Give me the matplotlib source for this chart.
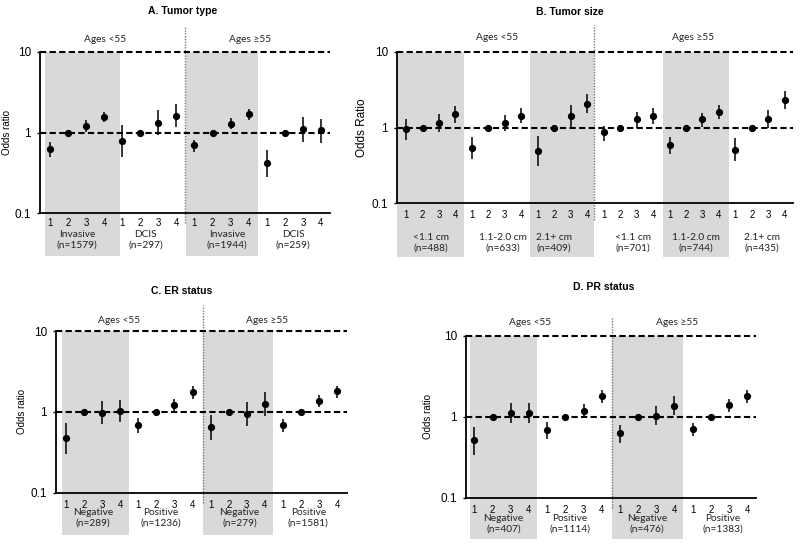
import matplotlib
matplotlib.use("Agg")
import matplotlib.pyplot as plt
from matplotlib.ticker import FixedLocator, NullLocator

plt.rcParams['font.family'] = ['Liberation Sans', 'DejaVu Sans']
LBL = ['Lato', 'DejaVu Sans']

# A. Tumor type
a_groups = ["Invasive\n(n=1579)", "DCIS\n(n=297)", "Invasive\n(n=1944)", "DCIS\n(n=259)"]
a_or = [0.63, 1, 1.20, 1.58, 0.79, 1, 1.33, 1.61, 0.69, 1, 1.29, 1.69, 0.42, 1, 1.10, 1.06]
a_lo = [0.50, 1, 1.02, 1.34, 0.49, 1, 0.94, 1.16, 0.58, 1, 1.10, 1.44, 0.28, 1, 0.77, 0.74]
a_hi = [0.77, 1, 1.41, 1.82, 1.25, 1, 1.88, 2.25, 0.81, 1, 1.51, 1.95, 0.61, 1, 1.54, 1.48]

# B. Tumor size
b_groups = ["<1.1 cm\n(n=488)", "1.1-2.0 cm\n(n=633)", "2.1+ cm\n(n=409)",
            "<1.1 cm\n(n=701)", "1.1-2.0 cm\n(n=744)", "2.1+ cm\n(n=435)"]
b_or = [0.95, 1, 1.13, 1.49, 0.53, 1, 1.16, 1.43, 0.49, 1, 1.43, 2.06,
        0.86, 1, 1.28, 1.43, 0.58, 1, 1.28, 1.61, 0.51, 1, 1.29, 2.33]
b_lo = [0.69, 1, 0.86, 1.16, 0.38, 1, 0.91, 1.14, 0.31, 1, 1.00, 1.55,
        0.67, 1, 1.00, 1.12, 0.45, 1, 1.03, 1.29, 0.36, 1, 0.98, 1.77]
b_hi = [1.30, 1, 1.50, 1.94, 0.74, 1, 1.47, 1.80, 0.78, 1, 1.96, 2.76,
        1.06, 1, 1.60, 1.80, 0.74, 1, 1.55, 2.00, 0.72, 1, 1.71, 3.06]

# C. ER status
c_groups = ["Negative\n(n=289)", "Positive\n(n=1236)", "Negative\n(n=279)", "Positive\n(n=1581)"]
c_or = [0.47, 1, 0.97, 1.02, 0.68, 1, 1.23, 1.74, 0.65, 1, 0.95, 1.24, 0.68, 1, 1.37, 1.80]
c_lo = [0.30, 1, 0.70, 0.74, 0.54, 1, 1.03, 1.43, 0.45, 1, 0.67, 0.89, 0.57, 1, 1.15, 1.50]
c_hi = [0.73, 1, 1.36, 1.39, 0.85, 1, 1.46, 2.08, 0.91, 1, 1.33, 1.74, 0.81, 1, 1.61, 2.10]

# D. PR status
d_groups = ["Negative\n(n=407)", "Positive\n(n=1114)", "Negative\n(n=476)", "Positive\n(n=1383)"]
d_or = [0.51, 1, 1.13, 1.13, 0.68, 1, 1.19, 1.80, 0.63, 1, 1.03, 1.38, 0.70, 1, 1.39, 1.82]
d_lo = [0.34, 1, 0.85, 0.85, 0.53, 1, 1.00, 1.49, 0.47, 1, 0.79, 1.05, 0.58, 1, 1.15, 1.50]
d_hi = [0.75, 1, 1.50, 1.50, 0.87, 1, 1.43, 2.13, 0.80, 1, 1.36, 1.80, 0.85, 1, 1.65, 2.17]

quart = ["1", "2", "3", "4"]
ages = ["Ages <55", "Ages \u226555"]

W, H = 800, 547
fig = plt.figure(figsize=(8, 5.47), dpi=100)
fig.patch.set_facecolor('white')


def px_axes(l, r, t, b):
    return fig.add_axes([l / W, 1 - b / H, (r - l) / W, (b - t) / H])


def draw_panel(ax, orr, lo, hi, groups, xlim, shades, shade_bot, div, div_ext,
               ages_x, ages_y, grp_x, grp_y, grp_ls, tick_pad, ylabel, ylab_x, ylab_fs):
    n = len(orr)
    x = list(range(n))
    ax.set_yscale('log')
    ax.set_ylim(0.1, 10)
    ax.set_xlim(*xlim)
    for s0, s1 in shades:
        ax.axvspan(s0, s1, ymin=shade_bot, ymax=1, color='#d9d9d9', lw=0,
                   clip_on=False, zorder=0)
    ax.axvline(div, ymin=div_ext[0], ymax=div_ext[1], color='#777777', lw=1,
               ls=(0, (1, 1)), clip_on=False, zorder=1)
    for yv in [1, 10]:
        ax.axhline(yv, color='black', lw=1.5, dashes=(3, 1.6), clip_on=False, zorder=2)
    yerr = [[o - l for o, l in zip(orr, lo)], [h - o for o, h in zip(orr, hi)]]
    ax.errorbar(x, orr, yerr=yerr, fmt='o', color='black', ms=4.2, elinewidth=1.1,
                capsize=0, zorder=3)
    ax.spines['top'].set_visible(False)
    ax.spines['right'].set_visible(False)
    ax.spines['left'].set_linewidth(1.3)
    ax.spines['bottom'].set_linewidth(1.3)
    ax.yaxis.set_major_locator(FixedLocator([0.1, 1, 10]))
    ax.yaxis.set_minor_locator(NullLocator())
    ax.set_yticklabels(["0.1", "1", "10"])
    ax.tick_params(axis='y', length=2.5, width=1, pad=4, labelsize=8.5)
    ax.set_xticks(x)
    ax.set_xticklabels(quart * (n // 4))
    ax.tick_params(axis='x', length=0, pad=tick_pad, labelsize=7)
    ax.patch.set_alpha(0)
    trans = ax.get_xaxis_transform()
    for gx, g in zip(grp_x, groups):
        ax.text(gx, grp_y, g, transform=trans, ha='center', va='center', fontsize=7.3,
                family=LBL, linespacing=grp_ls, color='#222222')
    for axx, a in zip(ages_x, ages):
        ax.text(axx, ages_y, a, transform=trans, ha='center', va='center', fontsize=7.3,
                family=LBL, color='#222222')
    ax.set_ylabel(ylabel, fontsize=ylab_fs)
    ax.yaxis.set_label_coords(ylab_x, 0.5)


axA = px_axes(40, 330, 52, 213)
draw_panel(axA, a_or, a_lo, a_hi, a_groups, (-0.55, 15.5),
           [(-0.28, 3.87), (7.55, 11.5)], -0.267, 7.47, (-0.062, 1.155),
           [3.04, 11.07], 1.075, [1.5, 5.3, 9.8, 13.45], -0.165, 1.15, 3.5,
           "Odds ratio", -0.097, 7)

axB = px_axes(397, 793, 52, 203)
draw_panel(axB, b_or, b_lo, b_hi, b_groups, (-0.55, 23.5),
           [(-0.55, 3.5), (7.55, 11.4), (15.6, 19.6)], -0.358, 11.4, (-0.113, 1.18),
           [5.53, 17.45], 1.093, [1.52, 5.9, 9.0, 13.8, 17.6, 21.6], -0.262, 1.3, 5,
           "Odds Ratio", -0.073, 8.5)

axC = px_axes(56, 347, 331, 492.7)
draw_panel(axC, c_or, c_lo, c_hi, c_groups, (-0.54, 15.53),
           [(-0.19, 3.49), (7.6, 11.46)], -0.262, 7.57, (-0.064, 1.16),
           [2.94, 11.1], 1.068, [1.5, 5.27, 9.6, 13.4], -0.156, 1.15, 5,
           "Odds ratio", -0.1, 7)

axD = px_axes(466, 756, 336, 497.7)
draw_panel(axD, d_or, d_lo, d_hi, d_groups, (-0.46, 15.48),
           [(-0.24, 3.43), (7.57, 11.45)], -0.257, 7.57, (-0.064, 1.12),
           [3.06, 11.14], 1.085, [1.6, 5.26, 9.5, 13.65], -0.16, 1.15, 5,
           "Odds ratio", -0.114, 7)

titles = ["A. Tumor type", "B. Tumor size", "C. ER status", "D. PR status"]
title_pos = [(183, 11), (570, 12), (182, 291), (604, 287)]
for t, (tx, ty) in zip(titles, title_pos):
    fig.text(tx / W, 1 - ty / H, t, ha='center', va='center', fontsize=7.5,
             fontweight='bold')

fig.savefig("out.png", dpi=100, facecolor='white')
